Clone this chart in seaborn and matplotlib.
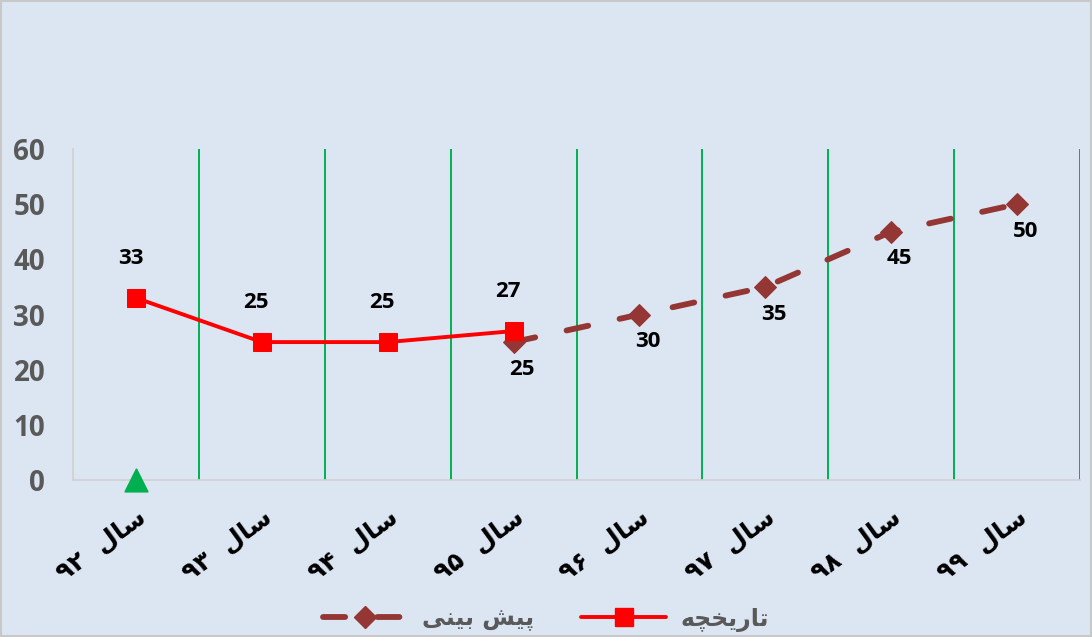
import numpy as np
import pandas as pd
import matplotlib
matplotlib.use("Agg")
import matplotlib.pyplot as plt
import seaborn as sns
from matplotlib.lines import Line2D
from matplotlib.patches import Rectangle

# ---- data ----
# x labels are written in visual (pre-shaped) order: "سال ۹۲" ... "سال ۹۹"
SAL = "\uFEDD\uFE8E\uFEB3"  # سال shaped, visual order
years_digits = ["\u06F9\u06F2", "\u06F9\u06F3", "\u06F9\u06F4", "\u06F9\u06F5",
                "\u06F9\u06F6", "\u06F9\u06F7", "\u06F9\u06F8", "\u06F9\u06F9"]
categories = [d + "  " + SAL for d in years_digits]

history_idx = [0, 1, 2, 3]
history_vals = [33, 25, 25, 27]
forecast_idx = [3, 4, 5, 6, 7]
forecast_vals = [25, 30, 35, 45, 50]
current_idx = [0]
current_vals = [0]

label_history = "\uFEEA\uFB7D\uFEA8\uFBFE\uFEAD\uFE8E\uFE97"          # تاریخچه
label_forecast = "\uFBFD\uFEE8\uFBFF\uFE91 \uFEB6\uFBFF\uFB58"        # پیش بینی

bg = "#DCE6F2"
red = "#FF0000"
dred = "#943634"
green = "#00B050"
gray = "#595959"

sns.set_theme(style="white")
plt.rcParams["font.family"] = ["Open Sans", "DejaVu Sans"]

fig = plt.figure(figsize=(10.92, 6.37), dpi=100)
fig.patch.set_facecolor(bg)
ax = fig.add_axes([73 / 1092, 1 - 480 / 637, (1080 - 73) / 1092, (480 - 149) / 637])
ax.set_facecolor(bg)

hist_df = pd.DataFrame({"x": history_idx, "y": history_vals})
fc_df = pd.DataFrame({"x": forecast_idx, "y": forecast_vals})
cur_df = pd.DataFrame({"x": current_idx, "y": current_vals})

FC_LW = 4.2
FC_DASH = [3.8, 5.5]
sns.lineplot(data=fc_df, x="x", y="y", ax=ax, color=dred, lw=FC_LW,
             marker="D", markersize=11, markeredgecolor=dred,
             dashes=False, zorder=3).lines[-1].set_dashes(FC_DASH)
ax.lines[-1].set_dash_capstyle("round")
sns.lineplot(data=hist_df, x="x", y="y", ax=ax, color=red, lw=2.8,
             marker="s", markersize=13, markeredgecolor=red, zorder=4)
sns.scatterplot(data=cur_df, x="x", y="y", ax=ax, color=green, marker="^",
                s=260, edgecolor=green, zorder=5, clip_on=False)

# data labels
for x, y in zip(history_idx, history_vals):
    ax.annotate(str(y), (x, y), xytext=(-4, 21), textcoords="offset points",
                ha="center", va="bottom", fontsize=16, fontweight="bold", color="black")
for x, y in zip(forecast_idx, forecast_vals):
    ax.annotate(str(y), (x, y), xytext=(6, -12), textcoords="offset points",
                ha="center", va="top", fontsize=16, fontweight="bold", color="black")

ax.set_xlim(-0.5, 7.5)
ax.set_ylim(0, 60)
ax.set_yticks(range(0, 61, 10))
ax.set_xticks(range(len(categories)))
ax.set_xticklabels(categories, rotation=36, ha="right", rotation_mode="anchor",
                   fontsize=18, fontweight="bold", color="black",
                   family=["DejaVu Sans"])
for lbl in ax.get_yticklabels():
    lbl.set_fontsize(20)
    lbl.set_fontweight("bold")
    lbl.set_color(gray)
ax.tick_params(axis="x", length=0, pad=18)
ax.tick_params(axis="y", length=0, pad=20)
ax.set_xlabel("")
ax.set_ylabel("")

for xb in np.arange(0.5, 8.0, 1.0):
    ax.axvline(xb, color=green, lw=1.4, zorder=1)

for s in ["top", "right"]:
    ax.spines[s].set_visible(False)
for s in ["left", "bottom"]:
    ax.spines[s].set_color("#D0D0D0")
    ax.spines[s].set_linewidth(1.2)

handles = [
    Line2D([0], [0], color=dred, lw=FC_LW, marker="D", markersize=11, dashes=FC_DASH,
           dash_capstyle="round"),
    Line2D([0], [0], color=red, lw=2.8, marker="s", markersize=13),
]
leg = fig.legend(handles, [label_forecast, label_history], loc="lower center",
                 bbox_to_anchor=(0.5, -0.025), ncol=2, frameon=False,
                 handlelength=3.6, columnspacing=2.0, handletextpad=0.6,
                 prop={"family": ["DejaVu Sans"], "weight": "bold", "size": 17})
for t in leg.get_texts():
    t.set_color(gray)

fig.add_artist(Rectangle((0.001, 0.001), 0.998, 0.998, transform=fig.transFigure,
                         fill=False, edgecolor="#C8C8C8", lw=1.5))

fig.savefig("out.png", dpi=100, facecolor=bg)
